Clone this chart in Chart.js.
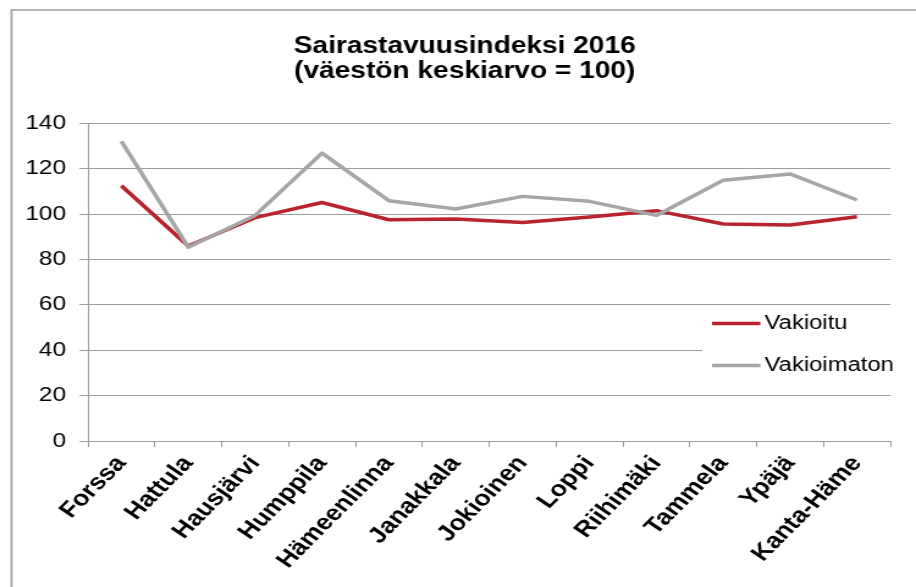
<!DOCTYPE html>
<html>
<head>
<meta charset="utf-8">
<script src="https://cdn.jsdelivr.net/npm/chart.js@4"></script>
<style>
  html, body { margin: 0; padding: 0; background: #fff; }
</style>
</head>
<body>
<!-- the reference picture is stretched sideways, so the bitmap is drawn narrower and scaled up -->
<canvas id="chart" width="750" height="587" style="display:block;width:916px;height:587px"></canvas>
<script>
const categories = ['Forssa', 'Hattula', 'Hausjärvi', 'Humppila', 'Hämeenlinna', 'Janakkala',
                    'Jokioinen', 'Loppi', 'Riihimäki', 'Tammela', 'Ypäjä', 'Kanta-Häme'];
const vakioitu = [112.6, 86, 98.5, 105.2, 97.6, 97.9, 96.4, 98.8, 101.6, 95.7, 95.3, 98.9];
const vakioimaton = [132.2, 85.5, 99.5, 127, 106, 102.3, 107.9, 105.7, 99.5, 115, 117.8, 106.3];
const seriesNames = ['Vakioitu', 'Vakioimaton'];
const titleLines = ['Sairastavuusindeksi 2016', '(väestön keskiarvo = 100)'];
const yMin = 0, yMax = 140, yStep = 20;

const FONT = '"Liberation Sans", Arial, sans-serif';
const GRID = '#9c9c9c';

// white page and the outer chart frame (only left and top edges are visible)
const frame = {
  id: 'frame',
  afterLayout(chart) {
    // title is centred on the whole frame, not on the padded box
    chart.titleBlock.left += 8;
    chart.titleBlock.right += 8;
  },
  beforeDraw(chart) {
    const ctx = chart.ctx;
    ctx.save();
    ctx.fillStyle = '#fff';
    ctx.fillRect(0, 0, chart.width, chart.height);
    ctx.strokeStyle = '#a0a0a0';
    ctx.lineWidth = 1.6;
    ctx.strokeRect(9.4, 10, chart.width + 20, chart.height + 20);
    ctx.restore();
  }
};

// legend sits inside the plot, on a white box that hides the 40 gridline
const legendBox = {
  id: 'legendBox',
  afterDatasetsDraw(chart) {
    const ctx = chart.ctx;
    const area = chart.chartArea;
    const left = area.right - 154;
    ctx.save();
    ctx.fillStyle = '#fff';
    ctx.fillRect(left, area.top + 186, area.right - left, 80);
    ctx.font = '19.5px ' + FONT;
    ctx.textBaseline = 'middle';
    ctx.textAlign = 'left';
    chart.data.datasets.forEach((ds, i) => {
      const y = area.top + 200 + i * 42;
      ctx.strokeStyle = ds.borderColor;
      ctx.lineWidth = ds.borderWidth;
      ctx.beginPath();
      ctx.moveTo(left + 8, y);
      ctx.lineTo(left + 47.5, y);
      ctx.stroke();
      ctx.fillStyle = '#000';
      ctx.fillText(ds.label, left + 51, y);
    });
    ctx.restore();
  }
};

const ctx = document.getElementById('chart').getContext('2d');
new Chart(ctx, {
  type: 'line',
  data: {
    labels: categories,
    datasets: [
      {
        label: seriesNames[0],
        data: vakioitu,
        borderColor: '#b8232d',
        borderWidth: 3.5,
        pointRadius: 0,
        tension: 0,
        borderJoinStyle: 'round',
        order: 1
      },
      {
        label: seriesNames[1],
        data: vakioimaton,
        borderColor: '#a6a6a6',
        borderWidth: 3.5,
        pointRadius: 0,
        tension: 0,
        borderJoinStyle: 'round',
        order: 0
      }
    ]
  },
  options: {
    responsive: false,
    devicePixelRatio: 1,
    animation: false,
    layout: { padding: { top: 24, left: 16, right: 21, bottom: 0 } },
    plugins: {
      legend: { display: false },
      tooltip: { enabled: false },
      title: {
        display: true,
        text: titleLines,
        color: '#000',
        font: { family: FONT, size: 23, weight: 'bold', lineHeight: 1.1 },
        padding: { top: 10, bottom: 39 }
      }
    },
    scales: {
      x: {
        offset: true,
        grid: { offset: true, drawOnChartArea: false, drawTicks: true, tickLength: 6, color: GRID },
        border: { color: GRID },
        ticks: {
          autoSkip: false,
          minRotation: 50.5,
          maxRotation: 50.5,
          padding: 4,
          color: '#000',
          font: { family: FONT, size: 22, weight: 'bold' }
        },
        afterFit(scale) { scale.height = 146; }
      },
      y: {
        min: yMin,
        max: yMax,
        grid: { color: GRID, tickLength: 7 },
        border: { color: GRID },
        ticks: {
          stepSize: yStep,
          padding: 11,
          color: '#000',
          font: { family: FONT, size: 20 }
        },
        afterFit(scale) { scale.width = 56; }
      }
    }
  },
  plugins: [frame, legendBox]
});
</script>
</body>
</html>
